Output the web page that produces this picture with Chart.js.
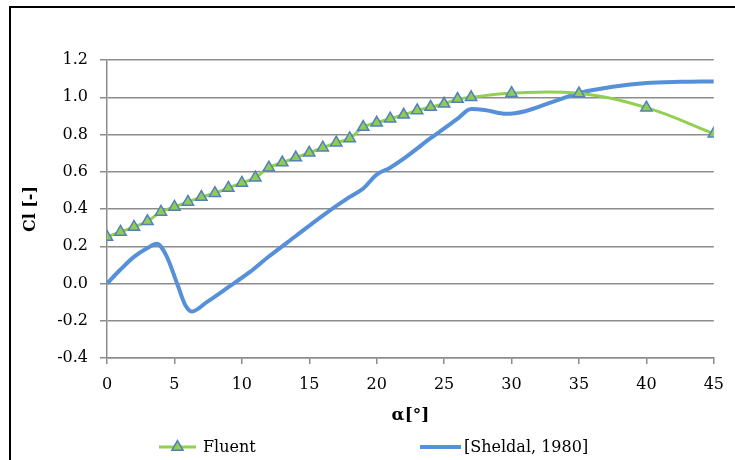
<!DOCTYPE html>
<html>
<head>
<meta charset="utf-8">
<script src="https://cdn.jsdelivr.net/npm/chart.js@4.4.1/dist/chart.umd.min.js"></script>
<style>
    html, body { margin: 0; padding: 0; background: #fff; overflow: hidden; }
    #wrap { position: relative; width: 735px; height: 460px; overflow: hidden; }
    #frame { position: absolute; left: 9px; top: 6px; width: 900px; height: 600px;
             border-top: 2px solid #000; border-left: 2px solid #000; }
    #chart { position: absolute; left: 0; top: 0; }
</style>
</head>
<body>
<div id="wrap">
    <div id="frame"></div>
    <canvas id="chart" width="735" height="460"></canvas>
</div>
<script>
var fluentAlpha = [0, 1, 2, 3, 4, 5, 6, 7, 8, 9, 10, 11, 12, 13, 14, 15, 16, 17, 18, 19, 20,
        21, 22, 23, 24, 25, 26, 27, 30, 35, 40, 45],
    fluentCl = [0.25, 0.277, 0.304, 0.334, 0.384, 0.411, 0.438, 0.464, 0.485, 0.513, 0.54,
        0.568, 0.622, 0.649, 0.676, 0.702, 0.729, 0.756, 0.779, 0.84, 0.863, 0.885, 0.906,
        0.929, 0.947, 0.965, 0.99, 1.0, 1.022, 1.02, 0.944, 0.804],
    sheldalAlpha = [0, 1, 2, 3, 3.7, 4.4, 5.2, 5.8, 6.3, 7.4, 9, 10.6, 12, 14, 16, 18, 19, 20,
        21, 22, 24, 26, 27, 28, 29.6, 31, 33, 35, 37.5, 40, 42.5, 45],
    sheldalCl = [0.0, 0.075, 0.143, 0.19, 0.214, 0.15, 0.0, -0.115, -0.15, -0.1, -0.02, 0.062,
        0.145, 0.255, 0.365, 0.465, 0.51, 0.585, 0.622, 0.67, 0.78, 0.885, 0.937, 0.932,
        0.911, 0.925, 0.974, 1.022, 1.056, 1.077, 1.083, 1.085],
    yTicks = [-0.4, -0.2, 0.0, 0.2, 0.4, 0.6, 0.8, 1.0, 1.2],
    xTicks = [0, 5, 10, 15, 20, 25, 30, 35, 40, 45];

var green = '#92D050',
    markerFill = '#92CB52',
    markerLine = '#4F81BD',
    blue = '#5590D8',
    gridGray = '#8C8C8C',
    serif = "'DejaVu Serif', 'Liberation Serif', serif";

var toPoints = function(xs, ys) {
    return xs.map(function(x, i) {
        return { x: x, y: ys[i] };
    });
};

// legend drawn by hand: Excel style line + marker
var legendPlugin = {
    id: 'excelLegend',
    afterDraw: function(chart) {
        var ctx = chart.ctx, y = 447;
        ctx.save();
        ctx.lineCap = 'butt';
        ctx.strokeStyle = green;
        ctx.lineWidth = 3;
        ctx.beginPath();
        ctx.moveTo(159, y);
        ctx.lineTo(196, y);
        ctx.stroke();
        var r = 6.5, cx = 177.5;
        ctx.beginPath();
        ctx.moveTo(cx, y - r);
        ctx.lineTo(cx + r * 0.866, y + r / 2);
        ctx.lineTo(cx - r * 0.866, y + r / 2);
        ctx.closePath();
        ctx.fillStyle = markerFill;
        ctx.fill();
        ctx.strokeStyle = markerLine;
        ctx.lineWidth = 1.5;
        ctx.stroke();

        ctx.strokeStyle = blue;
        ctx.lineWidth = 4;
        ctx.beginPath();
        ctx.moveTo(420, y);
        ctx.lineTo(461, y);
        ctx.stroke();

        ctx.fillStyle = '#000';
        ctx.font = '16px ' + serif;
        ctx.textBaseline = 'middle';
        ctx.fillText('Fluent', 203, y + 1);
        ctx.fillText('[Sheldal, 1980]', 464, y + 1);
        ctx.restore();
    }
};

var chart = new Chart(document.getElementById('chart'), {
    type: 'line',
    data: {
        datasets: [{
            label: 'Fluent',
            data: toPoints(fluentAlpha, fluentCl),
            borderColor: green,
            borderWidth: 3,
            tension: 0.4,
            pointStyle: 'triangle',
            pointRadius: 6.5,
            pointBackgroundColor: markerFill,
            pointBorderColor: markerLine,
            pointBorderWidth: 1.5
        }, {
            label: '[Sheldal, 1980]',
            data: toPoints(sheldalAlpha, sheldalCl),
            borderColor: blue,
            borderWidth: 4,
            cubicInterpolationMode: 'monotone',
            pointRadius: 0
        }]
    },
    options: {
        responsive: false,
        animation: false,
        devicePixelRatio: 1,
        layout: {
            padding: { left: 0, right: 20, top: 60, bottom: 0 }
        },
        plugins: {
            legend: { display: false },
            tooltip: { enabled: false }
        },
        scales: {
            x: {
                type: 'linear',
                min: 0,
                max: 45,
                afterBuildTicks: function(scale) {
                    scale.ticks = xTicks.map(function(v) { return { value: v }; });
                },
                afterFit: function(scale) { scale.height = 102; },
                border: { color: gridGray, width: 1.5 },
                grid: { drawOnChartArea: false, drawTicks: true, tickLength: 6, color: gridGray, lineWidth: 1.5 },
                ticks: { color: '#000', font: { family: serif, size: 16 }, padding: 11, maxRotation: 0 },
                title: {
                    display: true,
                    text: 'α[°]',
                    color: '#000',
                    font: { family: serif, size: 17, weight: 'bold' },
                    padding: { top: 0, bottom: 34 }
                }
            },
            y: {
                min: -0.4,
                max: 1.2,
                afterBuildTicks: function(scale) {
                    scale.ticks = yTicks.map(function(v) { return { value: v }; });
                },
                afterFit: function(scale) { scale.width = 107; },
                border: { color: gridGray, width: 1.5 },
                grid: { color: gridGray, lineWidth: 1.5, tickLength: 7 },
                ticks: {
                    color: '#000',
                    font: { family: serif, size: 16 },
                    padding: 12,
                    callback: function(v) { return v.toFixed(1); }
                },
                title: {
                    display: true,
                    text: 'Cl [-]',
                    color: '#000',
                    font: { family: serif, size: 16, weight: 'bold' },
                    padding: { top: 21, bottom: 0 }
                }
            }
        }
    },
    plugins: [legendPlugin]
});
</script>
</body>
</html>
